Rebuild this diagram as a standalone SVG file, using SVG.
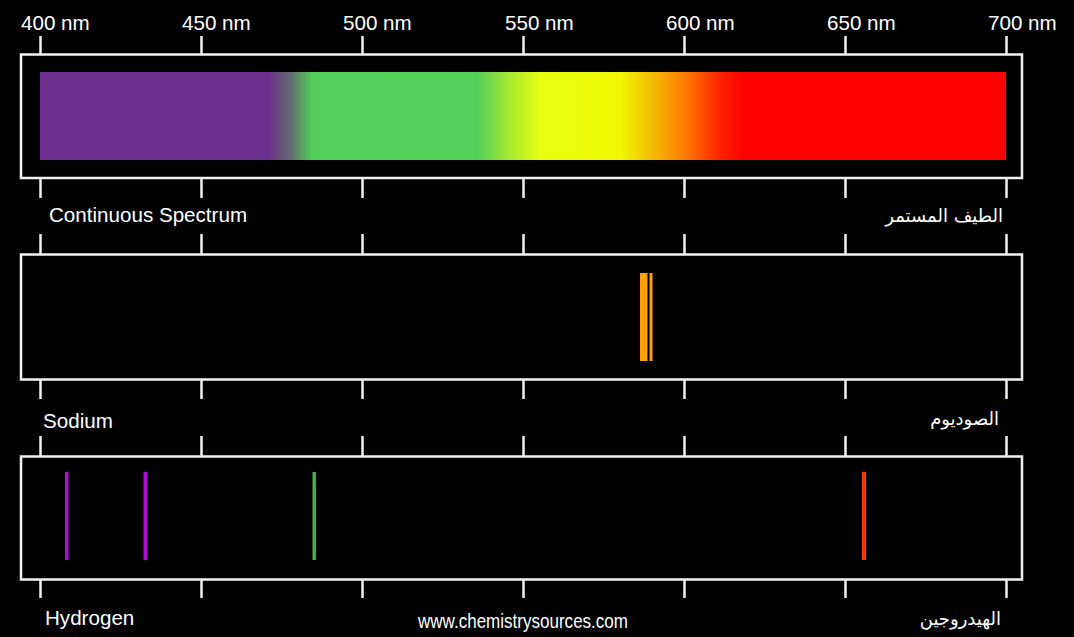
<svg xmlns="http://www.w3.org/2000/svg" width="1074" height="637" viewBox="0 0 1074 637">
<style>
.lbl{font-family:"Liberation Sans",Arial,sans-serif;font-size:20.6px;fill:#ffffff}
.ar{font-family:"DejaVu Sans",sans-serif;font-size:18px;fill:#ffffff;text-anchor:end}
.box{fill:none;stroke:#f2f2f2;stroke-width:2.5}
.tick{stroke:#f2f2f2;stroke-width:2.5}
</style>
<defs>
<linearGradient id="spec" x1="40" y1="0" x2="1006" y2="0" gradientUnits="userSpaceOnUse">
<stop offset="0" stop-color="#6d2f8d"/>
<stop offset="0.236" stop-color="#6d2f8d"/>
<stop offset="0.259" stop-color="#626a6e"/>
<stop offset="0.282" stop-color="#52cf5a"/>
<stop offset="0.453" stop-color="#54d05a"/>
<stop offset="0.487" stop-color="#a8ea30"/>
<stop offset="0.518" stop-color="#e6ff10"/>
<stop offset="0.600" stop-color="#f0f800"/>
<stop offset="0.631" stop-color="#f2c200"/>
<stop offset="0.673" stop-color="#ff7000"/>
<stop offset="0.704" stop-color="#ff2200"/>
<stop offset="0.730" stop-color="#ff0000"/>
<stop offset="1" stop-color="#ff0000"/>
</linearGradient>
</defs>
<rect x="0" y="0" width="1074" height="637" fill="#000000"/>
<g id="scale">
<text class="lbl" x="21" y="30">400 nm</text>
<text class="lbl" x="182" y="30">450 nm</text>
<text class="lbl" x="343" y="30">500 nm</text>
<text class="lbl" x="505" y="30">550 nm</text>
<text class="lbl" x="666" y="30">600 nm</text>
<text class="lbl" x="827" y="30">650 nm</text>
<text class="lbl" x="988" y="30">700 nm</text>
</g>
<g id="ticks">
<path class="tick" d="M40.5 36V54M201.5 36V54M362.5 36V54M523.5 36V54M684.5 36V54M845.5 36V54M1006.5 36V54"/>
<path class="tick" d="M40.5 178V198M201.5 178V198M362.5 178V198M523.5 178V198M684.5 178V198M845.5 178V198M1006.5 178V198"/>
<path class="tick" d="M40.5 234V254M201.5 234V254M362.5 234V254M523.5 234V254M684.5 234V254M845.5 234V254M1006.5 234V254"/>
<path class="tick" d="M40.5 380V399M201.5 380V399M362.5 380V399M523.5 380V399M684.5 380V399M845.5 380V399M1006.5 380V399"/>
<path class="tick" d="M40.5 436V456M201.5 436V456M362.5 436V456M523.5 436V456M684.5 436V456M845.5 436V456M1006.5 436V456"/>
<path class="tick" d="M40.5 580V598M201.5 580V598M362.5 580V598M523.5 580V598M684.5 580V598M845.5 580V598M1006.5 580V598"/>
</g>
<g id="continuous">
<rect class="box" x="21" y="54.5" width="1001" height="123.5"/>
<rect x="40" y="72" width="966" height="88" fill="url(#spec)"/>
<text class="lbl" x="49" y="222">Continuous Spectrum</text>
<text class="ar" x="1003" y="222">الطيف المستمر</text>
</g>
<g id="sodium">
<rect class="box" x="21" y="254.5" width="1001" height="125"/>
<rect x="640" y="273" width="7.5" height="88" fill="#ffa000"/>
<rect x="649.5" y="273" width="3" height="88" fill="#ffa000"/>
<text class="lbl" x="43" y="428">Sodium</text>
<text class="ar" x="999" y="425">الصوديوم</text>
</g>
<g id="hydrogen">
<rect class="box" x="21" y="456.5" width="1001" height="123"/>
<rect x="65" y="472" width="3.5" height="88" fill="#b20ad8"/>
<rect x="143.5" y="472" width="3.5" height="88" fill="#b20ad8"/>
<rect x="312.5" y="472" width="3.5" height="88" fill="#44b044"/>
<rect x="862" y="472" width="4" height="88" fill="#ff3300"/>
<text class="lbl" x="45" y="625">Hydrogen</text>
<text class="ar" x="1001" y="625">الهيدروجين</text>
</g>
<text class="lbl" x="418" y="628" textLength="210" lengthAdjust="spacingAndGlyphs">www.chemistrysources.com</text>
</svg>
